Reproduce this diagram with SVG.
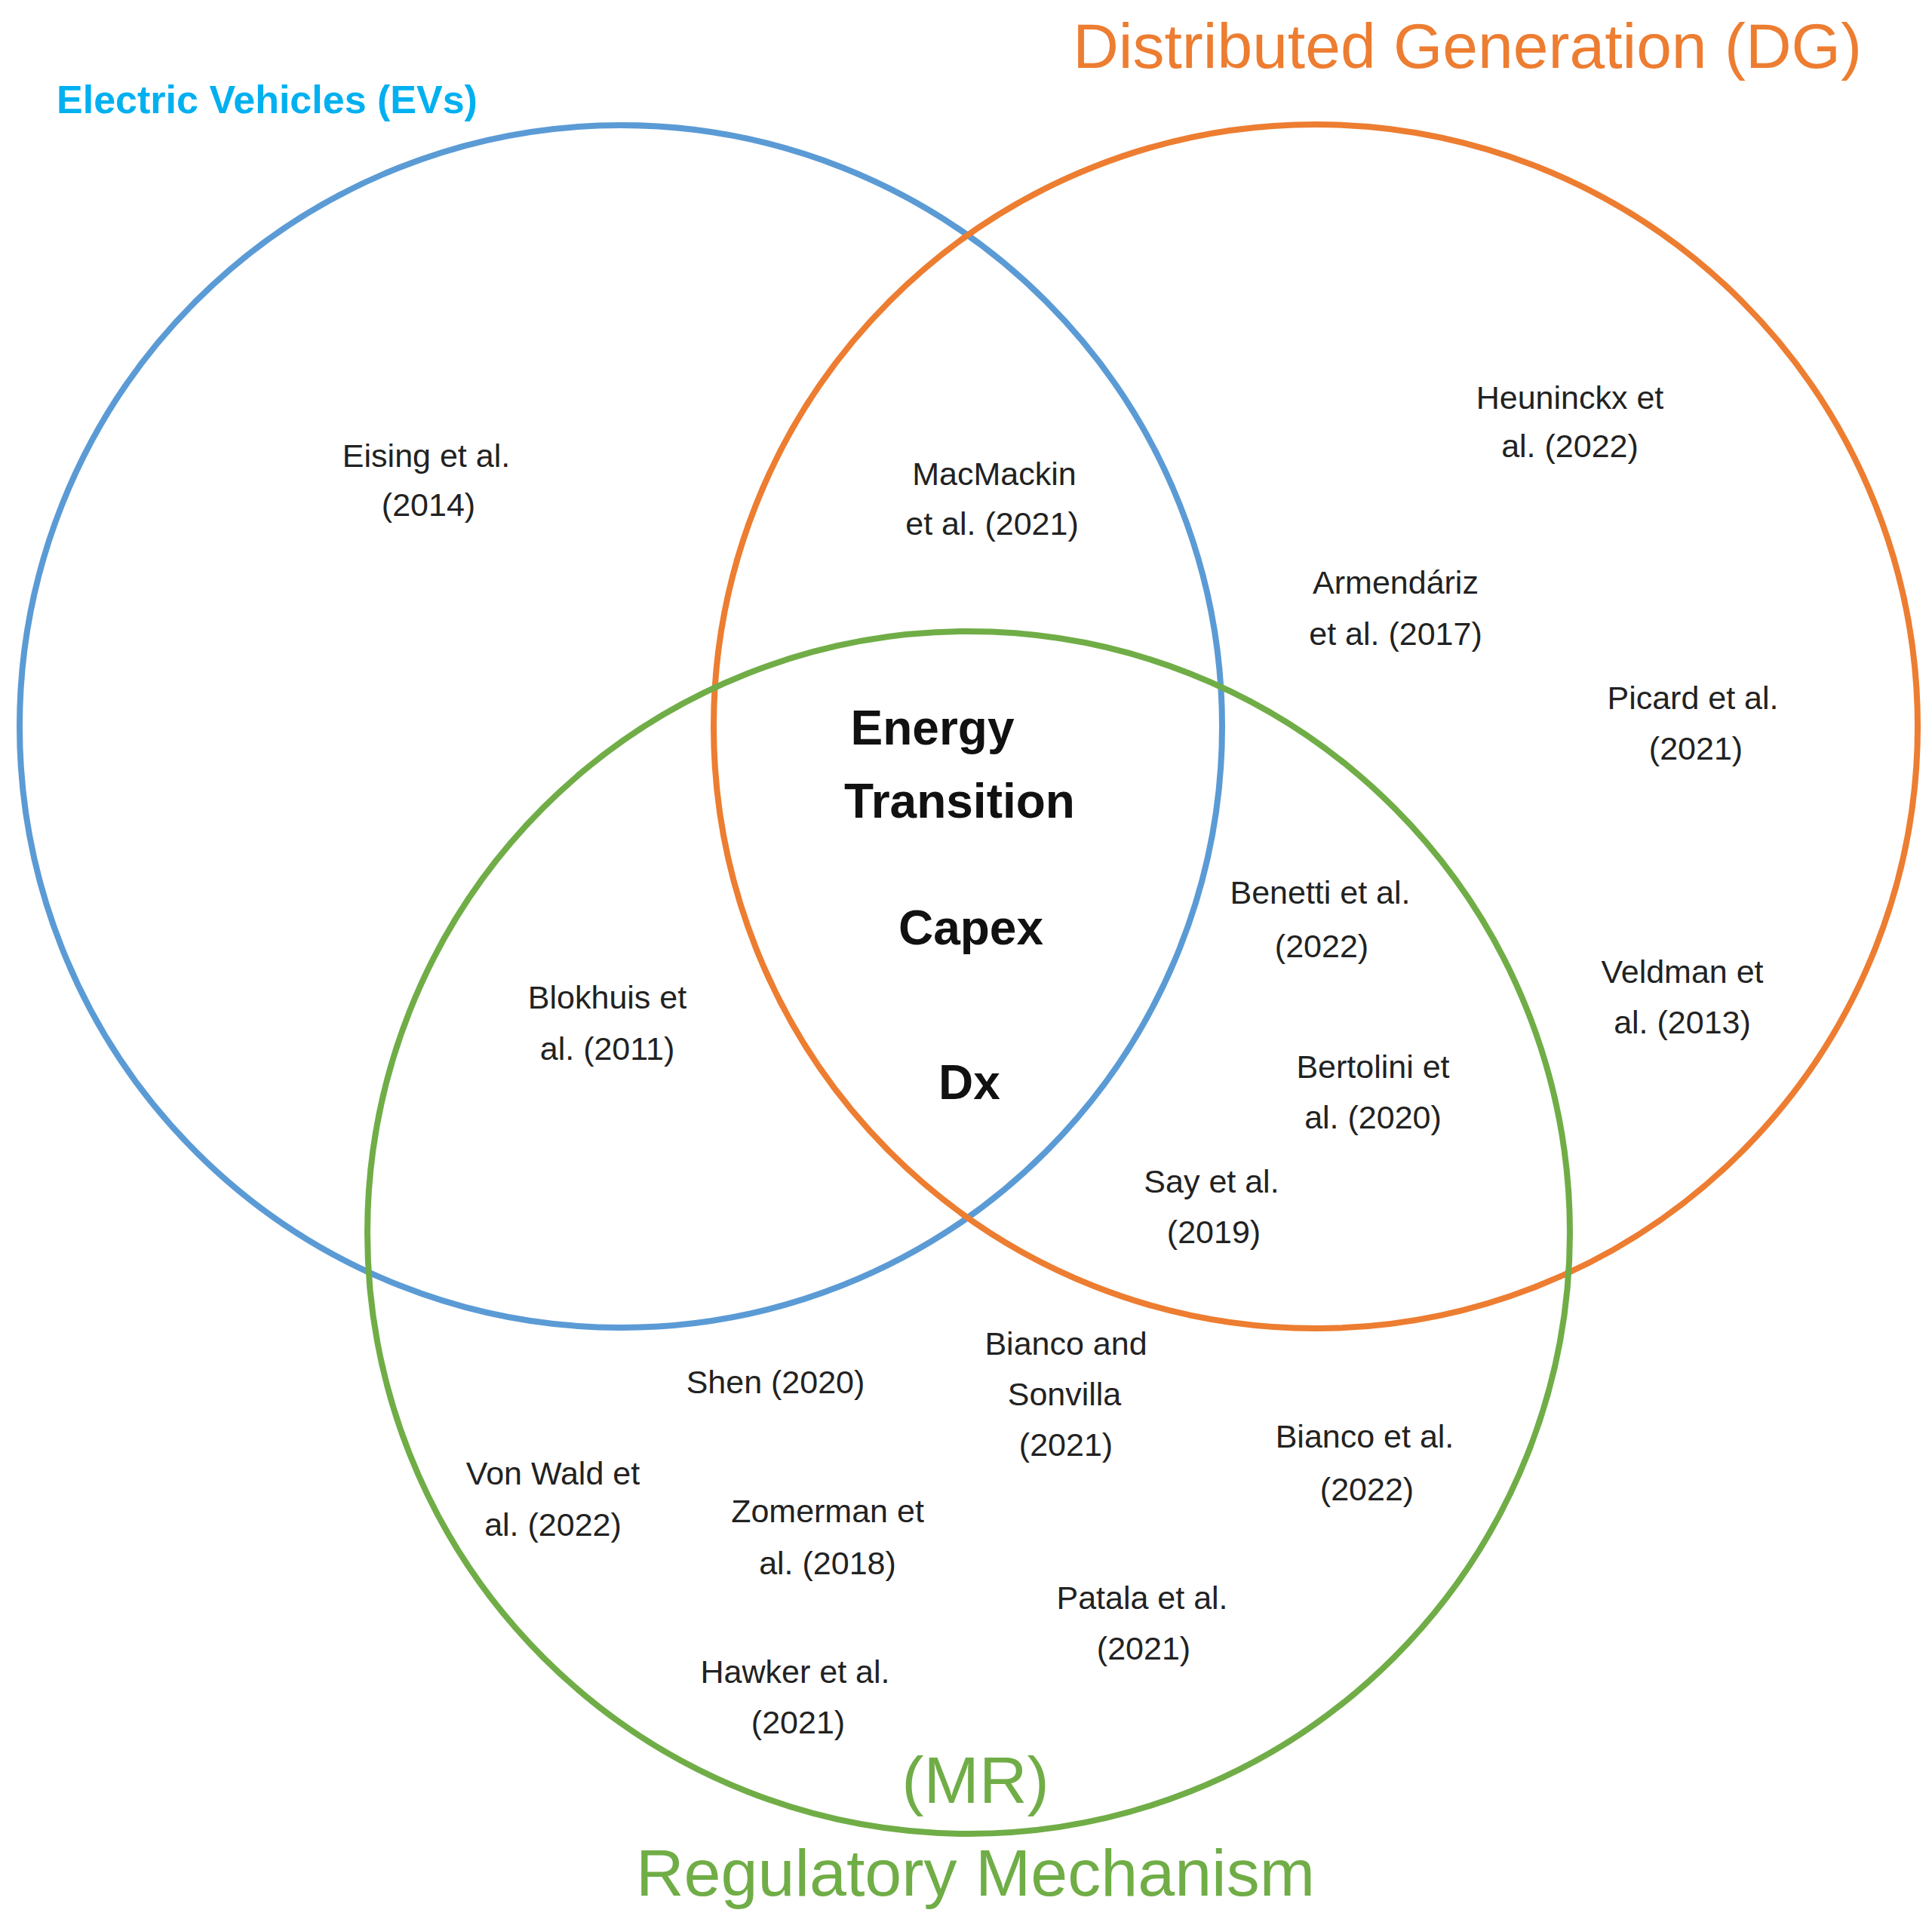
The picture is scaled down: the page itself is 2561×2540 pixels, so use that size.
<svg xmlns="http://www.w3.org/2000/svg" width="2561" height="2540" viewBox="0 0 2561 2540">
<style>
circle{fill:none;stroke-width:8}
text{font-family:"Liberation Sans",Arial,sans-serif;text-anchor:middle}
.c{font-size:43px;fill:#222}
.b{font-size:64px;font-weight:bold;fill:#111}
</style>
<rect width="2561" height="2540" fill="#fff"/>
<g id="ev"><circle cx="823" cy="963" r="797" stroke="#5B9BD5"/><text x="354" y="150" font-size="52" font-weight="bold" fill="#00B0F0">Electric Vehicles (EVs)</text></g>
<g id="dg"><circle cx="1744" cy="963" r="798" stroke="#ED7D31"/><text x="1945" y="90" font-size="84" fill="#ED7D31">Distributed Generation (DG)</text></g>
<g id="mr"><circle cx="1284" cy="1634" r="797" stroke="#70AD47"/><text x="1293" y="2390" font-size="88" fill="#70AD47">(MR)</text><text x="1293" y="2513" font-size="88" fill="#70AD47">Regulatory Mechanism</text></g>
<g id="center">
<text class="b" x="1236" y="987">Energy</text><text class="b" x="1272" y="1084">Transition</text>
<text class="b" x="1287" y="1252">Capex</text><text class="b" x="1285" y="1457">Dx</text>
</g>
<g id="labels" class="c">
<text class="c" x="565" y="619">Eising et al.</text><text class="c" x="568" y="684">(2014)</text>
<text class="c" x="1318" y="643">MacMackin</text><text class="c" x="1315" y="709">et al. (2021)</text>
<text class="c" x="2081" y="542">Heuninckx et</text><text class="c" x="2081" y="606">al. (2022)</text>
<text class="c" x="1850" y="787">Armendáriz</text><text class="c" x="1850" y="855">et al. (2017)</text>
<text class="c" x="2244" y="940">Picard et al.</text><text class="c" x="2248" y="1007">(2021)</text>
<text class="c" x="1750" y="1198">Benetti et al.</text><text class="c" x="1752" y="1269">(2022)</text>
<text class="c" x="2230" y="1303">Veldman et</text><text class="c" x="2230" y="1370">al. (2013)</text>
<text class="c" x="805" y="1337">Blokhuis et</text><text class="c" x="805" y="1405">al. (2011)</text>
<text class="c" x="1820" y="1429">Bertolini et</text><text class="c" x="1820" y="1496">al. (2020)</text>
<text class="c" x="1606" y="1581">Say et al.</text><text class="c" x="1609" y="1648">(2019)</text>
<text class="c" x="1413" y="1796">Bianco and</text><text class="c" x="1411" y="1863">Sonvilla</text><text class="c" x="1413" y="1930">(2021)</text>
<text class="c" x="1028" y="1847">Shen (2020)</text>
<text class="c" x="1809" y="1919">Bianco et al.</text><text class="c" x="1812" y="1989">(2022)</text>
<text class="c" x="733" y="1968">Von Wald et</text><text class="c" x="733" y="2036">al. (2022)</text>
<text class="c" x="1097" y="2018">Zomerman et</text><text class="c" x="1097" y="2087">al. (2018)</text>
<text class="c" x="1514" y="2133">Patala et al.</text><text class="c" x="1516" y="2200">(2021)</text>
<text class="c" x="1054" y="2231">Hawker et al.</text><text class="c" x="1058" y="2298">(2021)</text>
</g>
<g id="connectors"/>
</svg>
